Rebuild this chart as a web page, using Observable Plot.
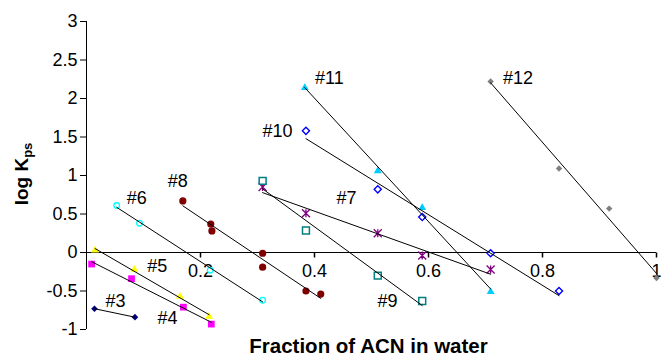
<!DOCTYPE html>
<html><head><meta charset="utf-8">
<script src="https://cdn.jsdelivr.net/npm/d3@7"></script>
<script src="https://cdn.jsdelivr.net/npm/@observablehq/plot@0.6"></script>
<style>body{margin:0;background:#fff} #chart{width:661px;height:361px}</style>
</head><body><div id="chart"></div>
<script>
// ---- data ----
const series = ["#3","#4","#5","#6","#7","#8","#9","#10","#11","#12"];
const x3 = [0.014, 0.085];                       const y3 = [-0.73, -0.84];
const x4 = [0.009, 0.079, 0.170, 0.219];         const y4 = [-0.15, -0.34, -0.71, -0.93];
const x5 = [0.015, 0.084, 0.164, 0.215];         const y5 = [0.03, -0.22, -0.57, -0.83];
const x6 = [0.053, 0.093, 0.217, 0.309];         const y6 = [0.61, 0.38, -0.23, -0.62];
const x7 = [0.309, 0.385, 0.511, 0.589, 0.709];  const y7 = [0.85, 0.51, 0.25, -0.04, -0.22];
const x8 = [0.169, 0.218, 0.220, 0.309, 0.309, 0.385, 0.411];
const y8 = [0.67, 0.37, 0.28, -0.01, -0.19, -0.50, -0.54];
const x9 = [0.309, 0.385, 0.511, 0.589];         const y9 = [0.93, 0.285, -0.30, -0.63];
const x10 = [0.385, 0.511, 0.589, 0.709, 0.829]; const y10 = [1.58, 0.82, 0.46, -0.01, -0.50];
const x11 = [0.383, 0.511, 0.589, 0.709];        const y11 = [2.14, 1.06, 0.58, -0.51];
const x12 = [0.709, 0.829, 0.917, 1.0];          const y12 = [2.22, 1.09, 0.57, -0.33];
const xs = [x3,x4,x5,x6,x7,x8,x9,x10,x11,x12];
const ys = [y3,y4,y5,y6,y7,y8,y9,y10,y11,y12];

// series label anchors (data units)
const labelX = [0.051, 0.142, 0.124, 0.088, 0.456, 0.160, 0.528, 0.335, 0.426, 0.757];
const labelY = [-0.63, -0.85, -0.18, 0.70, 0.71, 0.92, -0.63, 1.58, 2.26, 2.26];

const xTicks = [0.2, 0.4, 0.6, 0.8, 1];
const xTickLabels = ["0.2", "0.4", "0.6", "0.8", "1"];
const yTicks = [-1, -0.5, 0, 0.5, 1, 1.5, 2, 2.5, 3];

const xTitle = "Fraction of ACN in water";

// ---- build ----
const rows = series.flatMap((s, i) => xs[i].map((x, j) => ({series: s, x, y: ys[i][j]})));

const asterisk = {draw(ctx, size) {
  const r = Math.sqrt(size / Math.PI);
  ctx.moveTo(-r, -r); ctx.lineTo(r, r);
  ctx.moveTo(-r, r); ctx.lineTo(r, -r);
  ctx.moveTo(0, -r); ctx.lineTo(0, r);
}};
const tickSym = {draw(ctx) { ctx.moveTo(0, 0); ctx.lineTo(0, 5); }};

const styles = {
  "#3":  {symbol: "diamond2", fill: "#000080", stroke: "none", r: 3},
  "#4":  {symbol: "square", fill: "#FF00FF", stroke: "none", r: 3.8},
  "#5":  {symbol: "triangle", fill: "#FFFF00", stroke: "none", r: 2.9},
  "#6":  {symbol: "circle", fill: "white", stroke: "#00FFFF", strokeWidth: 1.3, r: 2.8},
  "#7":  {symbol: asterisk, fill: "none", stroke: "#800080", strokeWidth: 1.3, r: 4},
  "#8":  {symbol: "circle", fill: "#800000", stroke: "none", r: 3.6},
  "#9":  {symbol: "square", fill: "white", stroke: "#008080", strokeWidth: 1.5, r: 3.9},
  "#10": {symbol: "diamond2", fill: "white", stroke: "#0000FF", strokeWidth: 1.4, r: 3.2},
  "#11": {symbol: "triangle", fill: "#00CCFF", stroke: "none", r: 2.9},
  "#12": {symbol: "diamond2", fill: "#808080", stroke: "none", r: 2.9}
};

const dotMarks = series.map(s => Plot.dot(rows.filter(d => d.series === s), {x: "x", y: "y", ...styles[s]}));

const svg = Plot.plot({
  width: 661, height: 361,
  marginLeft: 86, marginRight: 5, marginTop: 21, marginBottom: 32,
  x: {domain: [0, 1], axis: null},
  y: {domain: [-1, 3], axis: null},
  style: {fontFamily: "'Liberation Sans', Arial, sans-serif", background: "white", color: "black"},
  marks: [
    Plot.ruleX([0], {stroke: "black"}),
    Plot.ruleY([0], {stroke: "black"}),
    Plot.axisY({ticks: yTicks, tickSize: 6, tickPadding: 3, fontSize: 18, tickFormat: d => String(d), label: null}),
    Plot.dot(xTicks, {x: d => d, y: 0, symbol: tickSym, stroke: "black", fill: "none", r: 2}),
    Plot.text(xTicks, {x: d => d, y: 0, text: (d, i) => xTickLabels[i], dy: 19, fontSize: 18}),
    ...dotMarks,
    Plot.linearRegressionY(rows, {x: "x", y: "y", z: "series", stroke: "black", strokeWidth: 1, ci: 0}),
    Plot.text(series, {x: (d, i) => labelX[i], y: (d, i) => labelY[i], text: d => d, fontSize: 18}),
    Plot.text([xTitle], {frameAnchor: "bottom", lineAnchor: "bottom", dx: -3, dy: 23, fontSize: 20.5, fontWeight: "bold", text: d => d})
  ]
});

const t = d3.select(svg).append("text")
  .attr("transform", "translate(28,174) rotate(-90)")
  .attr("text-anchor", "middle")
  .attr("font-family", "'Liberation Sans', Arial, sans-serif")
  .attr("font-weight", "bold")
  .attr("font-size", 19)
  .attr("fill", "black");
t.append("tspan").text("log K");
t.append("tspan").attr("font-size", 13).attr("dy", "0.3em").text("ps");

document.getElementById("chart").appendChild(svg);
</script>
</body></html>
